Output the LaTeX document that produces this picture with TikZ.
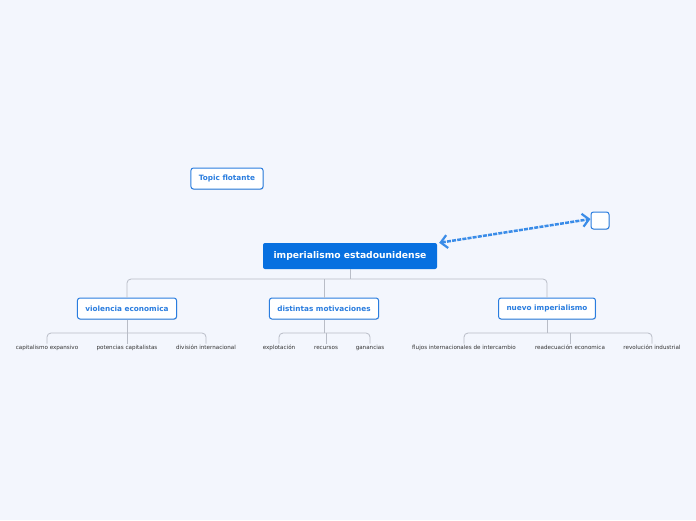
\documentclass[tikz,border=0pt]{standalone}
\usepackage{fontspec}
\setmainfont{DejaVu Sans}
\usepackage{tikz}
\usetikzlibrary{arrows.meta, shadows}

\definecolor{bgblue}{HTML}{F3F6FD}
\definecolor{rootblue}{HTML}{0770E0}
\definecolor{topicblue}{HTML}{2A7DDF}
\definecolor{linkgrey}{HTML}{B9BDC7}
\definecolor{floatblue}{HTML}{3A8CE8}
\definecolor{leafgrey}{HTML}{333333}

\begin{document}
\begin{tikzpicture}[x=1pt, y=-1pt,
    rootbox/.style={fill=rootblue, text=white, rounded corners=2pt,
      minimum width=174pt, minimum height=26pt, font=\fontsize{9.2}{11}\selectfont\bfseries},
    topicbox/.style={draw=topicblue, line width=1pt, fill=white, text=topicblue,
      rounded corners=2.5pt, inner xsep=8pt, minimum height=21pt,
      font=\fontsize{7.3}{9}\selectfont\bfseries,
      drop shadow={shadow xshift=0.6pt, shadow yshift=-0.8pt, opacity=0.25}},
    leaf/.style={text=leafgrey, inner sep=1.5pt, text height=4pt, text depth=1.3pt,
      font=\fontsize{5.6}{7}\selectfont},
    link/.style={draw=linkgrey, line width=0.8pt, rounded corners=4pt},
    floatlink/.style={floatblue, line width=2.5pt, dash pattern=on 4pt off 1.2pt,
      >={Straight Barb[length=6.5pt, width=13pt, line width=2.2pt]}, <->}]
  % Background
  \fill[bgblue] (0,0) rectangle (696,520);
  % Central topic and floating topics
  \node[rootbox] (root) at (350,256) {imperialismo estadounidense};
  \node[topicbox] (floating) at (227,178.5) {Topic flotante};
  \node[topicbox, inner sep=0pt, minimum width=18pt, minimum height=17pt] (empty) at (600,220.5) {};
  % Relationship
  \draw[floatlink] ([xshift=2pt]root.north east) -- ([yshift=1.5pt]empty.west);
  % Main topics
  \node[topicbox] (viol) at (127,308.5) {violencia economica};
  \node[topicbox] (motiv) at (324,308.5) {distintas motivaciones};
  \node[topicbox] (nuevo) at (547,308.5) {nuevo imperialismo};
  \coordinate (bus) at (350,279);
  \draw[link] (root.south) -- (bus);
  \draw[link] (viol.north) |- (bus) -| (nuevo.north);
  \draw[link, rounded corners=0pt] (motiv.north |- bus) -- (motiv.north);
  % Subtopics: violencia economica
  \node[leaf] (capexp) at (47,348) {capitalismo expansivo};
  \node[leaf] (potcap) at (127,348) {potencias capitalistas};
  \node[leaf] (divint) at (206,348) {división internacional};
  \coordinate (violbus) at (127,333);
  \draw[link] (capexp.north) |- (violbus) -| (divint.north);
  \draw[link] (viol.south) -- (potcap.north);
  % Subtopics: distintas motivaciones
  \node[leaf] (explot) at (279,348) {explotación};
  \node[leaf] (recur) at (326,348) {recursos};
  \node[leaf] (ganan) at (370,348) {ganancias};
  \coordinate (motivbus) at (324,333);
  \draw[link] (explot.north) |- (motivbus) -| (ganan.north);
  \draw[link] (motiv.south) -- (motivbus);
  \draw[link] (recur.north |- motivbus) -- (recur.north);
  % Subtopics: nuevo imperialismo
  \node[leaf] (flujos) at (464,348) {flujos internacionales de intercambio};
  \node[leaf] (readec) at (570,348) {readecuación economica};
  \node[leaf] (revind) at (652,348) {revolución industrial};
  \coordinate (nuevobus) at (547,333);
  \draw[link] (flujos.north) |- (nuevobus) -| (revind.north);
  \draw[link] (nuevo.south) -- (nuevobus);
  \draw[link] (readec.north |- nuevobus) -- (readec.north);
\end{tikzpicture}
\end{document}
